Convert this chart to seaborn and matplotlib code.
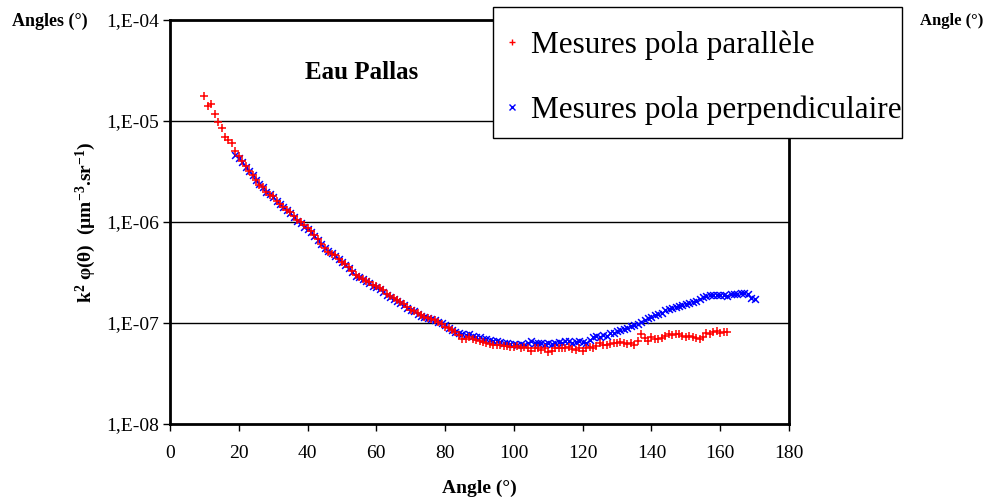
import numpy as np
import pandas as pd
import matplotlib
matplotlib.use("Agg")
import matplotlib.pyplot as plt
import seaborn as sns
from matplotlib.lines import Line2D
from matplotlib.patches import Rectangle

sns.set_theme(style="white")
plt.rcParams['font.family'] = ['Liberation Serif', 'DejaVu Serif']
plt.rcParams['mathtext.fontset'] = 'custom'
plt.rcParams['mathtext.rm'] = 'Liberation Serif'
plt.rcParams['mathtext.bf'] = 'Liberation Serif:bold'
plt.rcParams['mathtext.it'] = 'Liberation Serif:italic'
for k in ['text.color', 'axes.labelcolor', 'xtick.color', 'ytick.color']:
    plt.rcParams[k] = 'black'

# ---- data -----------------------------------------------------------
angles_par = list(range(10, 163))
values_par = [
    1.78e-5, 1.41e-5, 1.48e-5, 1.18e-5, 9.8e-6, 8.6e-6, 6.9e-6, 6.5e-6, 6.0e-6, 5.0e-6,   # 10-19
    4.5e-6, 4.0e-6, 3.6e-6, 3.2e-6, 2.9e-6, 2.6e-6, 2.35e-6, 2.2e-6, 2.0e-6, 1.85e-6,    # 20-29
    1.8e-6, 1.6e-6, 1.5e-6, 1.4e-6, 1.32e-6, 1.25e-6, 1.15e-6, 1.05e-6, 1.0e-6, 9.3e-7,  # 30-39
    8.7e-7, 8.1e-7, 7.4e-7, 6.8e-7, 6.1e-7, 5.5e-7, 5.1e-7, 4.8e-7, 4.7e-7, 4.3e-7,      # 40-49
    4.0e-7, 3.8e-7, 3.6e-7, 3.3e-7, 3.0e-7, 2.85e-7, 2.75e-7, 2.6e-7, 2.55e-7, 2.4e-7,   # 50-59
    2.35e-7, 2.2e-7, 2.1e-7, 1.95e-7, 1.85e-7, 1.75e-7, 1.7e-7, 1.6e-7, 1.55e-7, 1.45e-7, # 60-69
    1.35e-7, 1.3e-7, 1.25e-7, 1.2e-7, 1.15e-7, 1.13e-7, 1.1e-7, 1.06e-7, 1.02e-7, 9.8e-8, # 70-79
    9.2e-8, 8.9e-8, 8.5e-8, 8.1e-8, 7.6e-8, 7.0e-8, 6.9e-8, 7.3e-8, 7.0e-8, 6.8e-8,      # 80-89
    6.6e-8, 6.5e-8, 6.3e-8, 6.2e-8, 6.05e-8, 6.0e-8, 6.1e-8, 5.9e-8, 5.9e-8, 5.8e-8,     # 90-99
    5.8e-8, 5.9e-8, 5.7e-8, 5.8e-8, 5.6e-8, 5.3e-8, 5.7e-8, 5.6e-8, 5.4e-8, 5.7e-8,      # 100-109
    5.2e-8, 5.3e-8, 5.6e-8, 5.7e-8, 5.6e-8, 5.7e-8, 5.8e-8, 5.5e-8, 5.4e-8, 5.6e-8,      # 110-119
    5.3e-8, 5.6e-8, 5.8e-8, 5.7e-8, 5.9e-8, 6.3e-8, 6.0e-8, 6.1e-8, 6.2e-8, 6.3e-8,      # 120-129
    6.4e-8, 6.5e-8, 6.3e-8, 6.2e-8, 6.3e-8, 6.1e-8, 6.7e-8, 7.8e-8, 7.1e-8, 6.7e-8,      # 130-139
    7.2e-8, 7.0e-8, 7.0e-8, 7.1e-8, 7.4e-8, 7.8e-8, 7.6e-8, 7.8e-8, 7.8e-8, 7.5e-8,      # 140-149
    7.3e-8, 7.4e-8, 7.2e-8, 7.1e-8, 6.9e-8, 7.3e-8, 7.9e-8, 7.8e-8, 8.2e-8, 8.4e-8,      # 150-159
    8.0e-8, 8.1e-8, 8.1e-8,                                                               # 160-162
]

angles_perp = list(range(19, 171))
values_perp = [
    4.6e-6,                                                                               # 19
    4.3e-6, 3.9e-6, 3.5e-6, 3.2e-6, 2.9e-6, 2.6e-6, 2.4e-6, 2.2e-6, 2.0e-6, 1.9e-6,      # 20-29
    1.75e-6, 1.6e-6, 1.5e-6, 1.42e-6, 1.3e-6, 1.22e-6, 1.12e-6, 1.03e-6, 9.7e-7, 9.0e-7, # 30-39
    8.5e-7, 7.9e-7, 7.2e-7, 6.6e-7, 6.0e-7, 5.5e-7, 5.2e-7, 4.9e-7, 4.6e-7, 4.3e-7,      # 40-49
    4.0e-7, 3.75e-7, 3.5e-7, 3.2e-7, 2.95e-7, 2.85e-7, 2.7e-7, 2.6e-7, 2.5e-7, 2.3e-7,   # 50-59
    2.25e-7, 2.15e-7, 2.05e-7, 1.9e-7, 1.8e-7, 1.72e-7, 1.65e-7, 1.58e-7, 1.5e-7, 1.42e-7, # 60-69
    1.35e-7, 1.3e-7, 1.24e-7, 1.18e-7, 1.15e-7, 1.12e-7, 1.09e-7, 1.06e-7, 1.02e-7, 1.0e-7, # 70-79
    9.5e-8, 9.0e-8, 8.6e-8, 8.2e-8, 7.9e-8, 7.8e-8, 7.6e-8, 7.8e-8, 7.4e-8, 7.3e-8,      # 80-89
    7.3e-8, 7.0e-8, 6.9e-8, 6.8e-8, 6.6e-8, 6.6e-8, 6.5e-8, 6.4e-8, 6.3e-8, 6.2e-8,      # 90-99
    6.2e-8, 6.1e-8, 6.2e-8, 6.1e-8, 6.3e-8, 6.6e-8, 6.4e-8, 6.3e-8, 6.4e-8, 6.2e-8,      # 100-109
    6.3e-8, 6.2e-8, 6.4e-8, 6.5e-8, 6.3e-8, 6.6e-8, 6.7e-8, 6.4e-8, 6.5e-8, 6.7e-8,      # 110-119
    6.5e-8, 6.4e-8, 6.8e-8, 7.2e-8, 7.4e-8, 7.3e-8, 7.6e-8, 7.5e-8, 7.9e-8, 8.0e-8,      # 120-129
    8.3e-8, 8.5e-8, 8.7e-8, 8.9e-8, 9.3e-8, 9.6e-8, 9.8e-8, 1.02e-7, 1.06e-7, 1.12e-7,   # 130-139
    1.15e-7, 1.2e-7, 1.24e-7, 1.27e-7, 1.33e-7, 1.37e-7, 1.42e-7, 1.44e-7, 1.48e-7, 1.5e-7, # 140-149
    1.55e-7, 1.58e-7, 1.62e-7, 1.66e-7, 1.72e-7, 1.8e-7, 1.86e-7, 1.9e-7, 1.9e-7, 1.9e-7, # 150-159
    1.88e-7, 1.9e-7, 1.87e-7, 1.92e-7, 1.95e-7, 1.94e-7, 1.97e-7, 2.0e-7, 1.93e-7, 1.78e-7, # 160-169
    1.72e-7,                                                                              # 170
]

series_labels = ["Mesures pola parallèle", "Mesures pola perpendiculaire"]
y_ticks = [1e-8, 1e-7, 1e-6, 1e-5, 1e-4]
y_tick_labels = ["1,E-08", "1,E-07", "1,E-06", "1,E-05", "1,E-04"]
x_ticks = list(range(0, 181, 20))

df_par = pd.DataFrame({"angle": angles_par, "value": values_par})
df_perp = pd.DataFrame({"angle": angles_perp, "value": values_perp})

# ---- figure ---------------------------------------------------------
W, H = 992, 499
fig = plt.figure(figsize=(W / 100, H / 100), dpi=100)
ax = fig.add_axes([170/W, 75/H, 619/W, 404/H])

ax.set_yscale("log")
ax.set_xlim(0, 180)
ax.set_ylim(1e-8, 1e-4)

for yv in y_ticks[1:-1]:
    ax.axhline(yv, color="black", lw=1.0, zorder=1)

sns.scatterplot(data=df_perp, x="angle", y="value", ax=ax, marker="x",
                color="#0000FF", s=24, linewidth=1.1, zorder=3, legend=False)
sns.scatterplot(data=df_par, x="angle", y="value", ax=ax, marker="+",
                color="#FF0000", s=30, linewidth=1.1, zorder=4, legend=False)

ax.set_yticks(y_ticks)
ax.set_yticklabels(y_tick_labels)
ax.yaxis.set_minor_locator(matplotlib.ticker.NullLocator())
ax.set_xticks(x_ticks)
ax.set_xticklabels([str(v) for v in x_ticks])
ax.tick_params(axis="both", which="major", direction="out", length=5,
               width=1, color="black", labelsize=14, labelcolor="black",
               left=True, bottom=True)
ax.tick_params(axis="y", pad=3)
ax.tick_params(axis="x", pad=10)

for sp in ax.spines.values():
    sp.set_color("black")
    sp.set_linewidth(2.0)

ax.set_xlabel("Angle (°)", fontsize=14, fontweight="bold", labelpad=13,
              color="black")
ax.set_ylabel(r"k$^{\mathbf{2}}$ φ(θ)  (µm$^{\mathbf{-3}}$.sr$^{\mathbf{-1}}$)",
              fontsize=14, fontweight="bold", labelpad=6, color="black")

ax.text(55.8, 10**(-4.52), "Eau Pallas", fontsize=18, fontweight="bold",
        ha="center", va="center", color="black")

fig.text(50/W, 1 - 21/H, "Angles (°)", fontsize=13, fontweight="bold",
         ha="center", va="center", color="black")
fig.text(952/W, 1 - 21/H, "Angle (°)", fontsize=12, fontweight="bold",
         ha="center", va="center", color="black")

# legend frame drawn as a figure-level rectangle
fig.patches.append(Rectangle((493/W, 1 - 138/H), 409/W, 131/H,
                             transform=fig.transFigure, facecolor="white",
                             edgecolor="black", linewidth=1.0, zorder=5))

handles = [
    Line2D([], [], marker="+", color="#FF0000", linestyle="None", markersize=5, markeredgewidth=1),
    Line2D([], [], marker="x", color="#0000FF", linestyle="None", markersize=4, markeredgewidth=1),
]
leg = fig.legend(handles, series_labels, loc="upper left",
                 bbox_to_anchor=(503/W, 1 - 30/H), fontsize=22.5,
                 frameon=False, labelspacing=1.15, handlelength=0.6,
                 handletextpad=0.3, borderpad=0, borderaxespad=0,
                 labelcolor="black")
leg.set_zorder(6)

fig.savefig("out.png", dpi=100, facecolor="white")
